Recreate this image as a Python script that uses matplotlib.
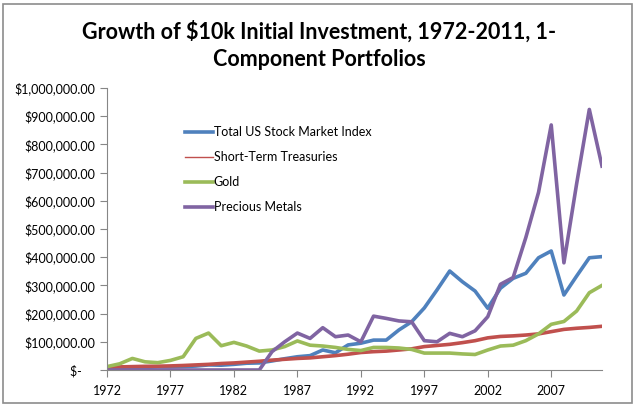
import numpy as np
import matplotlib.pyplot as plt
from matplotlib.lines import Line2D
from matplotlib.patches import Rectangle

years = list(range(1972, 2012))

# values in thousands of dollars
stock = [10, 9, 7, 9, 11, 11, 12, 14, 18, 17, 20, 24, 25, 32, 40, 47,
         51, 71, 61, 89, 95, 106, 106, 142, 171, 220, 284, 351, 313, 280,
         219, 290, 325, 343, 398, 422, 266, 333, 398, 402]
treasuries = [10, 11, 12, 13, 13.5, 14.5, 16, 18, 20, 23, 25, 28, 31, 35, 38, 41,
              43, 47, 51, 56, 62, 65, 67, 71, 75, 83, 87, 91, 97, 104,
              114, 119, 121, 124, 128, 136, 144, 148, 151, 155]
gold = [12, 22, 41, 29, 26, 34, 47, 112, 131, 86, 98, 85, 67, 71, 83, 103,
        88, 85, 80, 73, 69, 80, 80, 78, 73, 60, 60, 60, 57, 55,
        71, 85, 88, 104, 128, 162, 172, 209, 274, 300]
metals = [0, 0, 0, 0, 0, 0, 0, 0, 0, 0, 0, 0, 0, 65, 100, 131,
          112, 150, 118, 124, 100, 191, 183, 174, 171, 104, 100, 130, 118, 139,
          189, 304, 328, 470, 630, 869, 380, 660, 924, 723]

names = ['Total US Stock Market Index', 'Short-Term Treasuries', 'Gold', 'Precious Metals']
colors = ['#4F81BD', '#C0504D', '#9BBB59', '#8064A2']

plt.rcParams['font.family'] = ['Lato', 'DejaVu Sans']

fig = plt.figure(figsize=(6.39, 4.08), dpi=100)
fig.patches.append(Rectangle((3/639, 5/408), 629/639, 399/408, transform=fig.transFigure,
                             fill=False, edgecolor='#8c8c8c', lw=1.2))
ax = fig.add_axes([107/639, 1 - 370/408, 495/639, 282/408])

series = [stock, treasuries, gold, metals]
for vals, c in zip(series, colors):
    ax.plot(years, np.array(vals) * 1000, color=c, lw=2.6, solid_joinstyle='round')

ax.set_xlim(1972, 2011)
ax.set_ylim(0, 1000000)
ax.set_xticks(range(1972, 2008, 5))
ax.set_yticks(range(0, 1000001, 100000))
ylabels = ['$-    '] + ['${:,.2f}'.format(v) for v in range(100000, 1000001, 100000)]
ax.set_yticklabels(ylabels)
ax.tick_params(axis='both', labelsize=9, color='#868686', length=5, direction='out')
ax.tick_params(axis='x', pad=6)
for s in ['top', 'right']:
    ax.spines[s].set_visible(False)
for s in ['left', 'bottom']:
    ax.spines[s].set_color('#868686')

handles = []
for n, c in zip(names, colors):
    handles.append(Line2D([0], [0], color=c, lw=1 if n == 'Short-Term Treasuries' else 2.6))
ax.legend(handles, names, loc='upper left', bbox_to_anchor=(0.135, 0.905), frameon=False,
          fontsize=9, handlelength=2.2, handletextpad=0.1, labelspacing=1.05)

fig.text(0.5, 1 - 32/408, 'Growth of $10k Initial Investment, 1972-2011, 1-', ha='center',
         va='center', fontsize=15.5, fontweight='bold')
fig.text(0.5, 1 - 59/408, 'Component Portfolios', ha='center', va='center',
         fontsize=15.5, fontweight='bold')

fig.savefig('out.png', dpi=100)
